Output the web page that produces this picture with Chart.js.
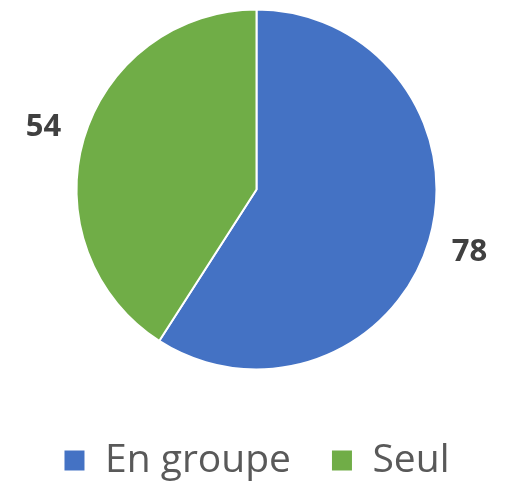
<!DOCTYPE html>
<html>
<head>
<meta charset="utf-8">
<script src="https://cdn.jsdelivr.net/npm/chart.js@4"></script>
<style>
  html, body { margin: 0; padding: 0; background: #fff; }
  #wrap { width: 513px; height: 485px; }
</style>
</head>
<body>
<div id="wrap"><canvas id="pieChart" width="513" height="485"></canvas></div>
<script>
const categories = ['En groupe', 'Seul'];
const values = [78, 54];
const colors = ['#4472C4', '#70AD47'];

// value labels outside the slices
const outsideLabels = {
  id: 'outsideLabels',
  afterDatasetsDraw(chart) {
    const ctx = chart.ctx;
    const meta = chart.getDatasetMeta(0);
    ctx.save();
    ctx.font = 'bold 31px "Open Sans", sans-serif';
    ctx.fillStyle = '#404040';
    ctx.textAlign = 'center';
    ctx.textBaseline = 'middle';
    meta.data.forEach((arc, i) => {
      const mid = (arc.startAngle + arc.endAngle) / 2;
      const d = arc.outerRadius + 42;
      ctx.fillText(String(values[i]), arc.x + Math.cos(mid) * d, arc.y + Math.sin(mid) * d);
    });
    ctx.restore();
  }
};

// give the legend more room above its items, keep items near the bottom
const legendSpace = {
  id: 'legendSpace',
  afterInit(chart) {
    const lg = chart.legend;
    if (!lg) return;
    const fit = lg.fit, draw = lg.draw;
    lg.fit = function () { fit.call(this); this.height += 17; };
    lg.draw = function () { this.top += 22; draw.call(this); this.top -= 22; };
  }
};

const ctxPie = document.getElementById('pieChart').getContext('2d');
new Chart(ctxPie, {
  type: 'pie',
  data: {
    labels: categories,
    datasets: [{
      data: values,
      backgroundColor: colors,
      borderColor: '#ffffff',
      borderWidth: 2,
      radius: 180,
      clip: false
    }]
  },
  options: {
    responsive: false,
    animation: false,
    layout: { padding: 0 },
    plugins: {
      tooltip: { enabled: false },
      legend: {
        position: 'bottom',
        labels: {
          boxWidth: 22,
          boxHeight: 22,
          padding: 40,
          color: '#595959',
          font: { family: '"Open Sans", sans-serif', size: 39 }
        }
      }
    }
  },
  plugins: [outsideLabels, legendSpace]
});
</script>
</body>
</html>
